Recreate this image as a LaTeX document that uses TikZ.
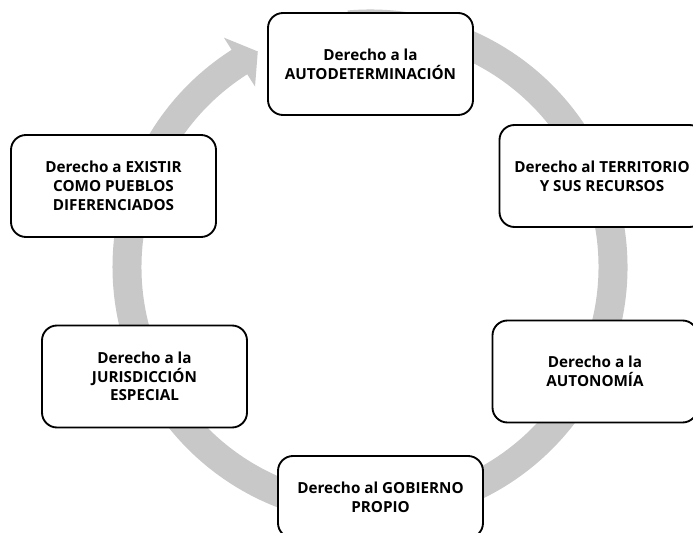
\documentclass[tikz,border=0pt]{standalone}
\usepackage{fontspec}
\setmainfont{Open Sans}
\usetikzlibrary{positioning}
\definecolor{ringgray}{RGB}{200,200,200}

\begin{document}
\begin{tikzpicture}
        [x=0.03cm,y=0.03cm,
         derecho/.style={draw=black,line width=1.6pt,rounded corners=0.45cm,fill=white,
           minimum width=6.15cm,minimum height=3.06cm,align=center,
           font=\fontsize{13}{16}\selectfont\bfseries}]

        \useasboundingbox (0,0) rectangle (693,533);
        \clip (0,0) rectangle (693,533);

        % ring and arrow head
        \begin{scope}[shift={(370,266)}]
            \fill[ringgray] (95:7.725cm) arc[start angle=95,end angle=-237.5,radius=7.725cm]
                -- (122.5:8.16cm) -- (117.5:7.29cm) -- (122.5:6.42cm) -- (122.5:6.855cm)
                arc[start angle=122.5,end angle=455,radius=6.855cm] -- cycle;
        \end{scope}

        \node[derecho] (autodet) at (370.5,469) {Derecho a la\\AUTODETERMINACIÓN};
        \node[derecho] (territorio) at (602,357) {Derecho al TERRITORIO\\Y SUS RECURSOS};
        \node[derecho] (autonomia) at (595,161.5) {Derecho a la\\AUTONOMÍA};
        \node[derecho,minimum height=2.46cm] (gobierno) at (380.5,36) {Derecho al GOBIERNO\\PROPIO};
        \node[derecho] (jurisdiccion) at (144.5,156.5) {Derecho a la\\JURISDICCIÓN\\ESPECIAL};
        \node[derecho] (existir) at (113.5,347) {Derecho a EXISTIR\\COMO PUEBLOS\\DIFERENCIADOS};

    \end{tikzpicture}
\end{document}
